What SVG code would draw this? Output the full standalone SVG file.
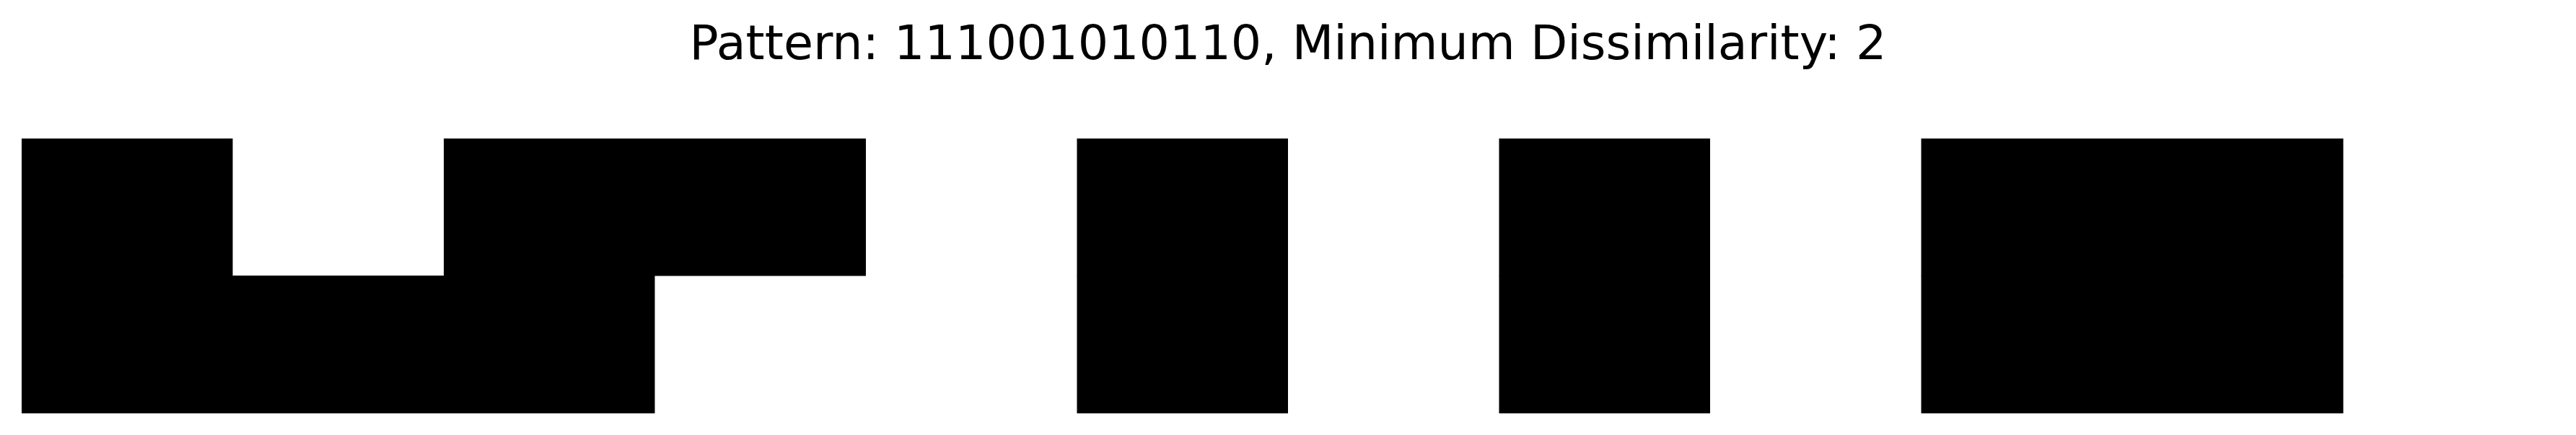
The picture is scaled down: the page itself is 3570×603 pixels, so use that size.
<svg xmlns="http://www.w3.org/2000/svg" width="3570" height="603" viewBox="0 0 3570 603">
<style>
.cell{fill:#000000;stroke:none}
.title{font-family:"DejaVu Sans","Liberation Sans",sans-serif;font-size:66.7px;fill:#000000}
</style>
<rect x="0" y="0" width="3570" height="603" fill="#ffffff"/>
<text class="title" x="1785" y="82" text-anchor="middle">Pattern: 111001010110, Minimum Dissimilarity: 2</text>
<g id="top-row">
<rect class="cell" x="30" y="192" width="292.5" height="190.5"/>
<rect class="cell" x="615" y="192" width="585" height="190.5"/>
<rect class="cell" x="1492.5" y="192" width="292.5" height="190.5"/>
<rect class="cell" x="2077.5" y="192" width="292.5" height="190.5"/>
<rect class="cell" x="2662.5" y="192" width="585" height="190.5"/>
</g>
<g id="bottom-row">
<rect class="cell" x="30" y="382" width="877.5" height="191"/>
<rect class="cell" x="1492.5" y="382" width="292.5" height="191"/>
<rect class="cell" x="2077.5" y="382" width="292.5" height="191"/>
<rect class="cell" x="2662.5" y="382" width="585" height="191"/>
</g>
</svg>
